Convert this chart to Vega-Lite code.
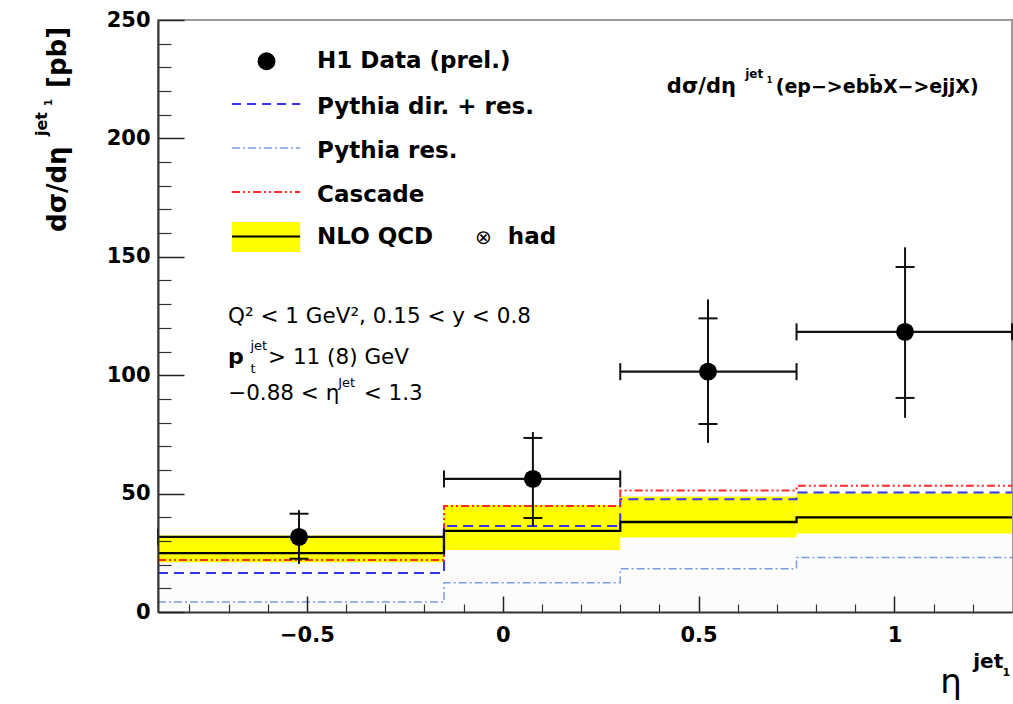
{
  "$schema": "https://vega.github.io/schema/vega-lite/v6.json",
  "width": 854,
  "height": 592,
  "autosize": {"type": "none"},
  "padding": {"left": 158, "top": 20, "right": 1, "bottom": 92},
  "background": "white",
  "config": {"view": {"stroke": "#9a9a9a", "strokeWidth": 2}, "font": "DejaVu Sans"},
  "datasets": {
    "bins": [
      {"bin": 1, "x0": -0.88, "x1": -0.15, "pdr": 16.5, "pr": 4.2, "cas": 22.0, "nlo": 24.9, "nlo_lo": 21.0, "nlo_hi": 32.3},
      {"bin": 2, "x0": -0.15, "x1": 0.3, "pdr": 36.3, "pr": 12.4, "cas": 44.8, "nlo": 34.3, "nlo_lo": 26.2, "nlo_hi": 45.2},
      {"bin": 3, "x0": 0.3, "x1": 0.75, "pdr": 47.6, "pr": 18.3, "cas": 51.3, "nlo": 38.0, "nlo_lo": 31.5, "nlo_hi": 48.8},
      {"bin": 4, "x0": 0.75, "x1": 1.3, "pdr": 50.5, "pr": 23.0, "cas": 53.3, "nlo": 40.0, "nlo_lo": 33.2, "nlo_hi": 50.1}
    ],
    "points": [
      {"x": -0.52, "x0": -0.88, "x1": -0.15, "y": 31.7, "stat_lo": 22.5, "stat_hi": 41.5, "tot_lo": 20.3, "tot_hi": 43.0},
      {"x": 0.077, "x0": -0.15, "x1": 0.3, "y": 56.2, "stat_lo": 39.7, "stat_hi": 73.5, "tot_lo": 36.0, "tot_hi": 76.0},
      {"x": 0.524, "x0": 0.3, "x1": 0.75, "y": 101.5, "stat_lo": 79.4, "stat_hi": 124.0, "tot_lo": 71.4, "tot_hi": 132.0},
      {"x": 1.027, "x0": 0.75, "x1": 1.3, "y": 118.3, "stat_lo": 90.4, "stat_hi": 145.7, "tot_lo": 82.0, "tot_hi": 154.0}
    ]
  },
  "resolve": {"axis": {"x": "independent", "y": "independent"}},
  "layer": [
    {
      "data": {"name": "bins"},
      "mark": {"type": "rect", "color": "#fcfcfc"},
      "encoding": {
        "x": {"field": "x0", "type": "quantitative", "scale": {"domain": [-0.88, 1.3], "nice": false, "zero": false},
          "axis": {"values": [-0.5, 0, 0.5, 1], "format": ".1~f", "orient": "bottom", "title": null, "grid": false, "tickSize": -16, "tickWidth": 1.5, "tickColor": "#222", "domainColor": "#333", "domainWidth": 2, "labelFont": "DejaVu Sans", "labelFontWeight": "bold", "labelFontSize": 21, "labelColor": "#000", "labelPadding": 28, "labelFlush": false, "labelOverlap": false, "labelBound": false, "zindex": 1}},
        "x2": {"field": "x1"},
        "y": {"field": "nlo_lo", "type": "quantitative", "scale": {"domain": [0, 250], "nice": false, "zero": false},
          "axis": {"values": [0, 50, 100, 150, 200, 250], "format": "d", "orient": "left", "title": null, "grid": false, "tickSize": -26, "tickWidth": 1.5, "tickColor": "#222", "domainColor": "#333", "domainWidth": 2, "labelFont": "DejaVu Sans", "labelFontWeight": "bold", "labelFontSize": 21, "labelColor": "#000", "labelPadding": 34, "labelFlush": false, "labelOverlap": false, "labelBound": false, "zindex": 1}},
        "y2": {"datum": 0}
      }
    },
    {
      "data": {"name": "bins"},
      "mark": {"type": "rect", "color": "#ffff00"},
      "encoding": {
        "x": {"field": "x0", "type": "quantitative",
          "axis": {"values": [-0.8, -0.7, -0.6, -0.4, -0.3, -0.2, -0.1, 0.1, 0.2, 0.3, 0.4, 0.6, 0.7, 0.8, 0.9, 1.1, 1.2], "orient": "bottom", "labels": false, "domain": false, "title": null, "grid": false, "tickSize": -8, "tickWidth": 1.2, "tickColor": "#333", "zindex": 1}},
        "x2": {"field": "x1"},
        "y": {"field": "nlo_lo", "type": "quantitative",
          "axis": {"values": [10, 20, 30, 40, 60, 70, 80, 90, 110, 120, 130, 140, 160, 170, 180, 190, 210, 220, 230, 240], "orient": "left", "labels": false, "domain": false, "title": null, "grid": false, "tickSize": -13, "tickWidth": 1.2, "tickColor": "#333", "zindex": 1}},
        "y2": {"field": "nlo_hi"}
      }
    },
    {
      "data": {"name": "bins"},
      "transform": [{"fold": ["x0", "x1"], "as": ["side", "edge"]}],
      "mark": {"type": "line", "color": "#7b9be0", "strokeWidth": 1.5, "strokeDash": [8, 3, 2, 3]},
      "encoding": {
        "x": {"field": "edge", "type": "quantitative", "axis": null},
        "y": {"field": "pr", "type": "quantitative", "axis": null},
        "order": [{"field": "bin", "type": "quantitative"}, {"field": "side", "type": "ordinal"}]
      }
    },
    {
      "data": {"name": "bins"},
      "transform": [{"fold": ["x0", "x1"], "as": ["side", "edge"]}],
      "mark": {"type": "line", "color": "#3434f0", "strokeWidth": 2, "strokeDash": [10, 6]},
      "encoding": {
        "x": {"field": "edge", "type": "quantitative", "axis": null},
        "y": {"field": "pdr", "type": "quantitative", "axis": null},
        "order": [{"field": "bin", "type": "quantitative"}, {"field": "side", "type": "ordinal"}]
      }
    },
    {
      "data": {"name": "bins"},
      "transform": [{"fold": ["x0", "x1"], "as": ["side", "edge"]}],
      "mark": {"type": "line", "color": "#ff2a2a", "strokeWidth": 2, "strokeDash": [8, 3, 2, 3, 2, 3]},
      "encoding": {
        "x": {"field": "edge", "type": "quantitative", "axis": null},
        "y": {"field": "cas", "type": "quantitative", "axis": null},
        "order": [{"field": "bin", "type": "quantitative"}, {"field": "side", "type": "ordinal"}]
      }
    },
    {
      "data": {"name": "bins"},
      "transform": [{"fold": ["x0", "x1"], "as": ["side", "edge"]}],
      "mark": {"type": "line", "color": "#000000", "strokeWidth": 2.3},
      "encoding": {
        "x": {"field": "edge", "type": "quantitative", "axis": null},
        "y": {"field": "nlo", "type": "quantitative", "axis": null},
        "order": [{"field": "bin", "type": "quantitative"}, {"field": "side", "type": "ordinal"}]
      }
    },
    {
      "data": {"name": "points"},
      "mark": {"type": "rule", "color": "#111", "strokeWidth": 2.2},
      "encoding": {
        "x": {"field": "x0", "type": "quantitative", "axis": null},
        "x2": {"field": "x1"},
        "y": {"field": "y", "type": "quantitative", "axis": null}
      }
    },
    {
      "data": {"name": "points"},
      "transform": [{"fold": ["x0", "x1"], "as": ["side", "edge"]}],
      "mark": {"type": "tick", "orient": "vertical", "size": 17, "thickness": 2, "color": "#111", "opacity": 1},
      "encoding": {
        "x": {"field": "edge", "type": "quantitative", "axis": null},
        "y": {"field": "y", "type": "quantitative", "axis": null}
      }
    },
    {
      "data": {"name": "points"},
      "mark": {"type": "rule", "color": "#111", "strokeWidth": 2},
      "encoding": {
        "x": {"field": "x", "type": "quantitative", "axis": null},
        "y": {"field": "tot_lo", "type": "quantitative", "axis": null},
        "y2": {"field": "tot_hi"}
      }
    },
    {
      "data": {"name": "points"},
      "transform": [{"fold": ["stat_lo", "stat_hi"], "as": ["side", "val"]}],
      "mark": {"type": "tick", "orient": "horizontal", "size": 19, "thickness": 2, "color": "#111", "opacity": 1},
      "encoding": {
        "x": {"field": "x", "type": "quantitative", "axis": null},
        "y": {"field": "val", "type": "quantitative", "axis": null}
      }
    },
    {
      "data": {"name": "points"},
      "mark": {"type": "point", "shape": "circle", "filled": true, "size": 320, "color": "#000", "opacity": 1},
      "encoding": {
        "x": {"field": "x", "type": "quantitative", "axis": null},
        "y": {"field": "y", "type": "quantitative", "axis": null}
      }
    },
    {
      "data": {"values": [{}]},
      "mark": {"type": "point", "shape": "circle", "filled": true, "size": 320, "color": "#000", "opacity": 1},
      "encoding": {"x": {"datum": -0.603, "type": "quantitative", "axis": null}, "y": {"datum": 232.6, "type": "quantitative", "axis": null}}
    },
    {
      "data": {"values": [{}]},
      "mark": {"type": "rule", "color": "#3434f0", "strokeWidth": 2, "strokeDash": [9, 6]},
      "encoding": {"x": {"datum": -0.691, "type": "quantitative", "axis": null}, "x2": {"datum": -0.517}, "y": {"datum": 214.5, "type": "quantitative", "axis": null}}
    },
    {
      "data": {"values": [{}]},
      "mark": {"type": "rule", "color": "#7b9be0", "strokeWidth": 1.5, "strokeDash": [8, 3, 2, 3]},
      "encoding": {"x": {"datum": -0.691, "type": "quantitative", "axis": null}, "x2": {"datum": -0.517}, "y": {"datum": 195.9, "type": "quantitative", "axis": null}}
    },
    {
      "data": {"values": [{}]},
      "mark": {"type": "rule", "color": "#ff2a2a", "strokeWidth": 2, "strokeDash": [8, 3, 2, 3, 2, 3]},
      "encoding": {"x": {"datum": -0.691, "type": "quantitative", "axis": null}, "x2": {"datum": -0.517}, "y": {"datum": 177.4, "type": "quantitative", "axis": null}}
    },
    {
      "data": {"values": [{}]},
      "mark": {"type": "rect", "color": "#ffff00"},
      "encoding": {"x": {"datum": -0.691, "type": "quantitative", "axis": null}, "x2": {"datum": -0.517}, "y": {"datum": 152.0, "type": "quantitative", "axis": null}, "y2": {"datum": 164.7}}
    },
    {
      "data": {"values": [{}]},
      "mark": {"type": "rule", "color": "#000", "strokeWidth": 2},
      "encoding": {"x": {"datum": -0.691, "type": "quantitative", "axis": null}, "x2": {"datum": -0.517}, "y": {"datum": 158.6, "type": "quantitative", "axis": null}}
    },
    {
      "data": {"values": [{}]},
      "mark": {"type": "text", "text": "H1 Data (prel.)", "align": "left", "baseline": "alphabetic", "font": "DejaVu Sans", "fontWeight": "bold", "fontSize": 23, "color": "#000"},
      "encoding": {"x": {"datum": -0.474, "type": "quantitative", "axis": null}, "y": {"datum": 229.7, "type": "quantitative", "axis": null}}
    },
    {
      "data": {"values": [{}]},
      "mark": {"type": "text", "text": "Pythia dir. + res.", "align": "left", "baseline": "alphabetic", "font": "DejaVu Sans", "fontWeight": "bold", "fontSize": 23, "color": "#000"},
      "encoding": {"x": {"datum": -0.474, "type": "quantitative", "axis": null}, "y": {"datum": 210.1, "type": "quantitative", "axis": null}}
    },
    {
      "data": {"values": [{}]},
      "mark": {"type": "text", "text": "Pythia res.", "align": "left", "baseline": "alphabetic", "font": "DejaVu Sans", "fontWeight": "bold", "fontSize": 23, "color": "#000"},
      "encoding": {"x": {"datum": -0.474, "type": "quantitative", "axis": null}, "y": {"datum": 191.7, "type": "quantitative", "axis": null}}
    },
    {
      "data": {"values": [{}]},
      "mark": {"type": "text", "text": "Cascade", "align": "left", "baseline": "alphabetic", "font": "DejaVu Sans", "fontWeight": "bold", "fontSize": 23, "color": "#000"},
      "encoding": {"x": {"datum": -0.474, "type": "quantitative", "axis": null}, "y": {"datum": 173.1, "type": "quantitative", "axis": null}}
    },
    {
      "data": {"values": [{}]},
      "mark": {"type": "text", "text": "NLO QCD", "align": "left", "baseline": "alphabetic", "font": "DejaVu Sans", "fontWeight": "bold", "fontSize": 23, "color": "#000"},
      "encoding": {"x": {"datum": -0.474, "type": "quantitative", "axis": null}, "y": {"datum": 155.4, "type": "quantitative", "axis": null}}
    },
    {
      "data": {"values": [{}]},
      "mark": {"type": "text", "text": "⊗", "align": "left", "baseline": "alphabetic", "font": "DejaVu Sans", "fontWeight": "normal", "fontSize": 20, "color": "#000"},
      "encoding": {"x": {"datum": -0.071, "type": "quantitative", "axis": null}, "y": {"datum": 155.4, "type": "quantitative", "axis": null}}
    },
    {
      "data": {"values": [{}]},
      "mark": {"type": "text", "text": "had", "align": "left", "baseline": "alphabetic", "font": "DejaVu Sans", "fontWeight": "bold", "fontSize": 23, "color": "#000"},
      "encoding": {"x": {"datum": 0.013, "type": "quantitative", "axis": null}, "y": {"datum": 155.4, "type": "quantitative", "axis": null}}
    },
    {
      "data": {"values": [{}]},
      "mark": {"type": "text", "text": "dσ/dη", "align": "left", "baseline": "alphabetic", "font": "DejaVu Sans", "fontWeight": "bold", "fontSize": 21, "color": "#000"},
      "encoding": {"x": {"datum": 0.419, "type": "quantitative", "axis": null}, "y": {"datum": 219.2, "type": "quantitative", "axis": null}}
    },
    {
      "data": {"values": [{}]},
      "mark": {"type": "text", "text": "jet", "align": "left", "baseline": "alphabetic", "font": "DejaVu Sans", "fontWeight": "bold", "fontSize": 12, "color": "#000"},
      "encoding": {"x": {"datum": 0.619, "type": "quantitative", "axis": null}, "y": {"datum": 225.5, "type": "quantitative", "axis": null}}
    },
    {
      "data": {"values": [{}]},
      "mark": {"type": "text", "text": "1", "align": "left", "baseline": "alphabetic", "font": "DejaVu Sans", "fontWeight": "bold", "fontSize": 8, "color": "#000"},
      "encoding": {"x": {"datum": 0.674, "type": "quantitative", "axis": null}, "y": {"datum": 223.2, "type": "quantitative", "axis": null}}
    },
    {
      "data": {"values": [{}]},
      "mark": {"type": "text", "text": "(ep−>ebb̄X−>ejjX)", "align": "left", "baseline": "alphabetic", "font": "DejaVu Sans", "fontWeight": "bold", "fontSize": 19, "color": "#000"},
      "encoding": {"x": {"datum": 0.697, "type": "quantitative", "axis": null}, "y": {"datum": 219.2, "type": "quantitative", "axis": null}}
    },
    {
      "data": {"values": [{}]},
      "mark": {"type": "text", "text": "Q² < 1 GeV², 0.15 < y < 0.8", "align": "left", "baseline": "alphabetic", "font": "DejaVu Sans", "fontWeight": "normal", "fontSize": 21.5, "color": "#000"},
      "encoding": {"x": {"datum": -0.701, "type": "quantitative", "axis": null}, "y": {"datum": 122.0, "type": "quantitative", "axis": null}}
    },
    {
      "data": {"values": [{}]},
      "mark": {"type": "text", "text": "p", "align": "left", "baseline": "alphabetic", "font": "DejaVu Sans", "fontWeight": "bold", "fontSize": 22, "color": "#000"},
      "encoding": {"x": {"datum": -0.701, "type": "quantitative", "axis": null}, "y": {"datum": 104.7, "type": "quantitative", "axis": null}}
    },
    {
      "data": {"values": [{}]},
      "mark": {"type": "text", "text": "jet", "align": "left", "baseline": "alphabetic", "font": "DejaVu Sans", "fontWeight": "normal", "fontSize": 13, "color": "#000"},
      "encoding": {"x": {"datum": -0.644, "type": "quantitative", "axis": null}, "y": {"datum": 110.6, "type": "quantitative", "axis": null}}
    },
    {
      "data": {"values": [{}]},
      "mark": {"type": "text", "text": "t", "align": "left", "baseline": "alphabetic", "font": "DejaVu Sans", "fontWeight": "normal", "fontSize": 13, "color": "#000"},
      "encoding": {"x": {"datum": -0.644, "type": "quantitative", "axis": null}, "y": {"datum": 101.0, "type": "quantitative", "axis": null}}
    },
    {
      "data": {"values": [{}]},
      "mark": {"type": "text", "text": "> 11 (8) GeV", "align": "left", "baseline": "alphabetic", "font": "DejaVu Sans", "fontWeight": "normal", "fontSize": 21.5, "color": "#000"},
      "encoding": {"x": {"datum": -0.599, "type": "quantitative", "axis": null}, "y": {"datum": 104.7, "type": "quantitative", "axis": null}}
    },
    {
      "data": {"values": [{}]},
      "mark": {"type": "text", "text": "−0.88 < η", "align": "left", "baseline": "alphabetic", "font": "DejaVu Sans", "fontWeight": "normal", "fontSize": 21.5, "color": "#000"},
      "encoding": {"x": {"datum": -0.701, "type": "quantitative", "axis": null}, "y": {"datum": 89.5, "type": "quantitative", "axis": null}}
    },
    {
      "data": {"values": [{}]},
      "mark": {"type": "text", "text": "Jet", "align": "left", "baseline": "alphabetic", "font": "DejaVu Sans", "fontWeight": "normal", "fontSize": 13, "color": "#000"},
      "encoding": {"x": {"datum": -0.42, "type": "quantitative", "axis": null}, "y": {"datum": 95.0, "type": "quantitative", "axis": null}}
    },
    {
      "data": {"values": [{}]},
      "mark": {"type": "text", "text": "< 1.3", "align": "left", "baseline": "alphabetic", "font": "DejaVu Sans", "fontWeight": "normal", "fontSize": 21.5, "color": "#000"},
      "encoding": {"x": {"datum": -0.355, "type": "quantitative", "axis": null}, "y": {"datum": 89.5, "type": "quantitative", "axis": null}}
    },
    {
      "data": {"values": [{}]},
      "mark": {"type": "text", "text": "dσ/dη", "angle": 270, "align": "left", "baseline": "alphabetic", "font": "DejaVu Sans", "fontWeight": "bold", "fontSize": 26, "color": "#000"},
      "encoding": {"x": {"datum": -1.115, "type": "quantitative", "axis": null}, "y": {"datum": 160.5, "type": "quantitative", "axis": null}}
    },
    {
      "data": {"values": [{}]},
      "mark": {"type": "text", "text": "jet", "angle": 270, "align": "left", "baseline": "alphabetic", "font": "DejaVu Sans", "fontWeight": "bold", "fontSize": 16, "color": "#000"},
      "encoding": {"x": {"datum": -1.163, "type": "quantitative", "axis": null}, "y": {"datum": 201.0, "type": "quantitative", "axis": null}}
    },
    {
      "data": {"values": [{}]},
      "mark": {"type": "text", "text": "1", "angle": 270, "align": "left", "baseline": "alphabetic", "font": "DejaVu Sans", "fontWeight": "bold", "fontSize": 10, "color": "#000"},
      "encoding": {"x": {"datum": -1.151, "type": "quantitative", "axis": null}, "y": {"datum": 213.7, "type": "quantitative", "axis": null}}
    },
    {
      "data": {"values": [{}]},
      "mark": {"type": "text", "text": "[pb]", "angle": 270, "align": "left", "baseline": "alphabetic", "font": "DejaVu Sans", "fontWeight": "bold", "fontSize": 26, "color": "#000"},
      "encoding": {"x": {"datum": -1.115, "type": "quantitative", "axis": null}, "y": {"datum": 221.3, "type": "quantitative", "axis": null}}
    },
    {
      "data": {"values": [{}]},
      "mark": {"type": "text", "text": "η", "align": "left", "baseline": "alphabetic", "font": "DejaVu Sans", "fontWeight": "normal", "fontSize": 34, "color": "#000"},
      "encoding": {"x": {"datum": 1.117, "type": "quantitative", "axis": null}, "y": {"datum": -34.2, "type": "quantitative", "axis": null}}
    },
    {
      "data": {"values": [{}]},
      "mark": {"type": "text", "text": "jet", "align": "left", "baseline": "alphabetic", "font": "DejaVu Sans", "fontWeight": "bold", "fontSize": 20, "color": "#000"},
      "encoding": {"x": {"datum": 1.201, "type": "quantitative", "axis": null}, "y": {"datum": -23.6, "type": "quantitative", "axis": null}}
    },
    {
      "data": {"values": [{}]},
      "mark": {"type": "text", "text": "1", "align": "left", "baseline": "alphabetic", "font": "DejaVu Sans", "fontWeight": "bold", "fontSize": 11, "color": "#000"},
      "encoding": {"x": {"datum": 1.276, "type": "quantitative", "axis": null}, "y": {"datum": -27.0, "type": "quantitative", "axis": null}}
    }
  ]
}
